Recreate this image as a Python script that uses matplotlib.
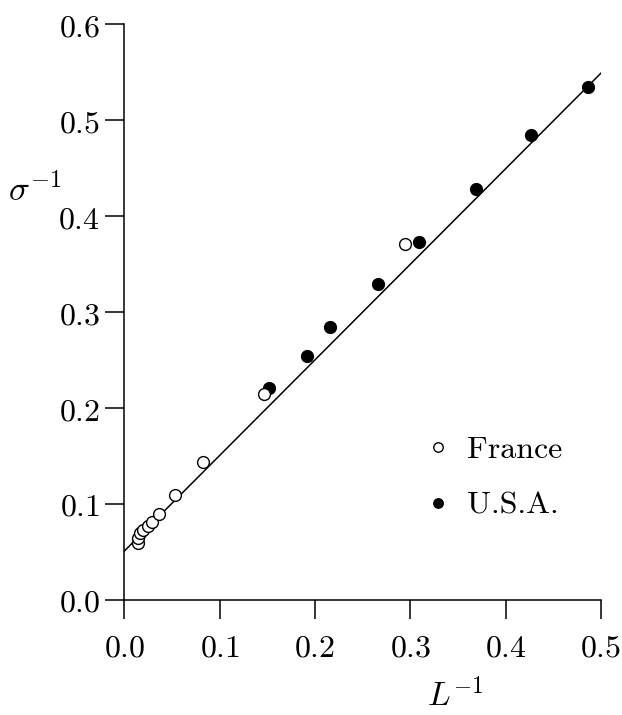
"""Inverse conductivity vs inverse length, France and U.S.A. samples."""

import numpy as np
import matplotlib
matplotlib.use("Agg")
import matplotlib.pyplot as plt

plt.rcParams["mathtext.fontset"] = "cm"
plt.rcParams["font.family"] = "serif"
plt.rcParams["font.serif"] = ["DejaVu Serif"]

# values
FRANCE_X = [0.0138, 0.0145, 0.016, 0.0197, 0.0243, 0.0285, 0.0365, 0.053, 0.0827, 0.147, 0.294]
FRANCE_Y = [0.059, 0.064, 0.0695, 0.073, 0.077, 0.0816, 0.090, 0.109, 0.144, 0.2146, 0.371]
USA_X = [0.152, 0.192, 0.216, 0.266, 0.309, 0.3685, 0.427, 0.4867]
USA_Y = [0.221, 0.2545, 0.284, 0.329, 0.373, 0.428, 0.485, 0.535]

FIT_INTERCEPT = 0.051
FIT_SLOPE = 0.996
FIT_RANGE = [0.0, 0.5]

X_TICKS = [0.0, 0.1, 0.2, 0.3, 0.4, 0.5]
Y_TICKS = [0.0, 0.1, 0.2, 0.3, 0.4, 0.5, 0.6]


def main():
    fig = plt.figure(figsize=(6.22, 7.15), dpi=100)
    ax = fig.add_axes([0.2, 0.161, 0.766, 0.805])

    fx = np.array(FIT_RANGE)
    ax.plot(fx, FIT_INTERCEPT + FIT_SLOPE * fx, color="black", lw=1.1, zorder=1)

    ax.plot(FRANCE_X, FRANCE_Y, "o", ms=8.5, mfc="white", mec="black",
            mew=1.0, ls="none", label="France", zorder=3)
    ax.plot(USA_X, USA_Y, "o", ms=8.5, mfc="black", mec="black",
            ls="none", label="U.S.A.", zorder=2)

    ax.set_xlim(0, 0.5)
    ax.set_ylim(0, 0.6)
    ax.set_xticks(X_TICKS)
    ax.set_yticks(Y_TICKS)
    ax.set_xticklabels([rf"${v:.1f}$" for v in X_TICKS])
    ax.set_yticklabels([rf"${v:.1f}$" for v in Y_TICKS])
    ax.tick_params(direction="out", length=13.5, width=1.1, labelsize=23)
    ax.tick_params(axis="x", pad=10)
    ax.tick_params(axis="y", pad=4)

    for s in ("top", "right"):
        ax.spines[s].set_visible(False)
    for s in ("left", "bottom"):
        ax.spines[s].set_linewidth(1.1)

    ax.text(-0.245, 0.427, r"$\sigma^{-1}$", fontsize=25,
            ha="left", va="center", transform=ax.get_yaxis_transform())
    ax.text(0.347, -0.167, r"$L^{-1}$", fontsize=24,
            ha="center", va="center", transform=ax.get_xaxis_transform())

    ax.legend(loc="upper left", bbox_to_anchor=(0.565, 0.335),
              frameon=False, prop={"family": "cmr10", "size": 23},
              markerscale=0.8, handlelength=1.0, handletextpad=0.4,
              labelspacing=0.85)

    fig.savefig("out.png", dpi=100, facecolor="white")


if __name__ == "__main__":
    main()
